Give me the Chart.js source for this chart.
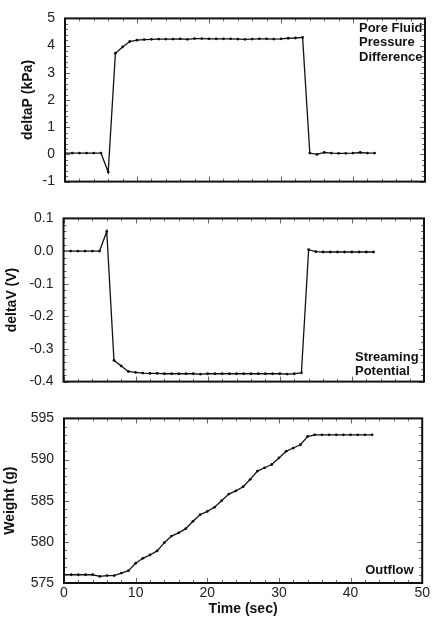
<!DOCTYPE html>
<html>
<head>
<meta charset="utf-8">
<script src="https://cdn.jsdelivr.net/npm/chart.js@4/dist/chart.umd.min.js"></script>
<style>
  body { margin: 0; background: #fff; }
  .panel { position: absolute; left: 0; width: 432px; }
</style>
</head>
<body>
<div class="panel" style="top:0;height:200px"><canvas id="pressure"></canvas></div>
<div class="panel" style="top:200px;height:200px"><canvas id="voltage"></canvas></div>
<div class="panel" style="top:400px;height:224px"><canvas id="weight"></canvas></div>
<script>
// time (sec)
const time = [0, 1, 2, 3, 4, 5, 6, 7, 8, 9, 10, 11, 12, 13, 14, 15, 16, 17, 18, 19, 20, 21,
              22, 23, 24, 25, 26, 27, 28, 29, 30, 31, 32, 33, 34, 35, 36, 37, 38, 39, 40, 41, 42, 43];

// pore fluid pressure difference (kPa)
const deltaP = [0.05, 0.05, 0.05, 0.05, 0.05, 0.05, -0.65, 3.72, 3.95, 4.15, 4.20, 4.22, 4.23, 4.24,
                4.24, 4.24, 4.25, 4.23, 4.26, 4.26, 4.25, 4.25, 4.25, 4.25, 4.24, 4.23, 4.24, 4.25,
                4.25, 4.24, 4.25, 4.27, 4.28, 4.30, 0.05, 0.00, 0.07, 0.05, 0.04, 0.04, 0.05, 0.07,
                0.05, 0.05];

// streaming potential (V)
const deltaV = [0.0, 0.0, 0.0, 0.0, 0.0, 0.0, 0.06, -0.335, -0.352, -0.369, -0.372, -0.374, -0.375,
                -0.375, -0.376, -0.376, -0.376, -0.376, -0.376, -0.377, -0.376, -0.376, -0.376, -0.376,
                -0.376, -0.376, -0.376, -0.376, -0.376, -0.376, -0.376, -0.377, -0.376, -0.373,
                0.004, -0.002, -0.003, -0.003, -0.003, -0.003, -0.003, -0.003, -0.003, -0.003];

// outflow weight (g)
const weight = [576.0, 576.0, 576.0, 576.0, 576.0, 575.8, 575.9, 575.9, 576.2, 576.5, 577.4, 578.0,
                578.4, 578.9, 579.9, 580.7, 581.1, 581.6, 582.5, 583.3, 583.7, 584.2, 585.0, 585.8,
                586.2, 586.7, 587.6, 588.6, 589.0, 589.4, 590.2, 591.0, 591.4, 591.8, 592.8, 593.0,
                593.0, 593.0, 593.0, 593.0, 593.0, 593.0, 593.0, 593.0];

const pressureNote = ['Pore Fluid', 'Pressure', 'Difference'];
const voltageNote = ['Streaming', 'Potential'];
const weightNote = ['Outflow'];

const tickFont = { family: 'Liberation Sans, Arial, sans-serif', size: 14 };
const titleFont = { family: 'Liberation Sans, Arial, sans-serif', size: 14, weight: 'bold' };

// inward ticks on all four sides plus the heavy frame
const framePlugin = {
  id: 'frame',
  afterDatasetsDraw(chart, args, opts) {
    const ctx = chart.ctx;
    const a = chart.chartArea;
    const xs = chart.scales.x, ys = chart.scales.y;
    ctx.save();
    ctx.strokeStyle = '#666';
    ctx.lineWidth = 1;
    ctx.beginPath();
    for (let v = 0; v <= 50.001; v += 2) {
      const px = Math.round(xs.getPixelForValue(v)) + 0.5;
      const len = Math.abs(v % 10) < 0.01 ? 5 : 3;
      ctx.moveTo(px, a.bottom); ctx.lineTo(px, a.bottom - len);
      ctx.moveTo(px, a.top); ctx.lineTo(px, a.top + len);
    }
    const ymin = ys.min, ymax = ys.max, major = opts.major, minor = opts.minor;
    const n = Math.round((ymax - ymin) / minor);
    const per = Math.round(major / minor);
    for (let i = 0; i <= n; i++) {
      const v = ymin + i * minor;
      const py = Math.round(ys.getPixelForValue(v)) + 0.5;
      const len = i % per === 0 ? 5 : 3;
      ctx.moveTo(a.left, py); ctx.lineTo(a.left + len, py);
      ctx.moveTo(a.right, py); ctx.lineTo(a.right - len, py);
    }
    ctx.stroke();
    ctx.strokeStyle = '#111';
    ctx.lineWidth = 2;
    ctx.strokeRect(a.left, a.top, a.right - a.left, a.bottom - a.top);

    // panel note
    ctx.fillStyle = '#111';
    ctx.font = 'bold 13px "Liberation Sans", Arial, sans-serif';
    ctx.textBaseline = 'middle';
    opts.note.forEach((line, i) => {
      ctx.fillText(line, a.right + opts.noteDx, a.top + opts.noteDy + i * 14.5);
    });
    ctx.restore();
  }
};

function makeChart(id, values, cfg) {
  const points = time.map((t, i) => ({ x: t, y: values[i] }));
  return new Chart(document.getElementById(id), {
    type: 'line',
    data: {
      datasets: [{
        data: points,
        borderColor: '#111',
        borderWidth: 1.3,
        pointRadius: 1.4,
        pointBackgroundColor: '#111',
        pointBorderWidth: 0,
        tension: 0
      }]
    },
    options: {
      responsive: true,
      maintainAspectRatio: false,
      animation: false,
      layout: { padding: cfg.padding },
      plugins: {
        legend: { display: false },
        tooltip: { enabled: false },
        frame: { major: cfg.major, minor: cfg.minor, note: cfg.note, noteDx: cfg.noteDx, noteDy: cfg.noteDy }
      },
      scales: {
        x: {
          type: 'linear',
          min: 0,
          max: 50,
          display: cfg.showX,
          grid: { display: false, drawTicks: false },
          border: { display: false },
          ticks: { stepSize: 10, color: '#222', font: tickFont, padding: 2, maxRotation: 0 },
          title: { display: true, text: 'Time (sec)', color: '#111', font: titleFont, padding: { top: 0, bottom: 6 } },
          afterFit(scale) { scale.height = cfg.showX ? 41 : 0; }
        },
        y: {
          min: cfg.min,
          max: cfg.max,
          grid: { display: false, drawTicks: false },
          border: { display: false },
          ticks: {
            stepSize: cfg.major,
            color: '#222',
            font: tickFont,
            padding: 10,
            callback: v => v.toFixed(cfg.digits)
          },
          title: { display: true, text: cfg.title, color: '#111', font: titleFont, padding: { top: cfg.titlePad, bottom: 0 } },
          afterFit(scale) { scale.width = cfg.axisWidth; }
        }
      }
    },
    plugins: [framePlugin]
  });
}

makeChart('pressure', deltaP, {
  min: -1, max: 5, major: 1, minor: 0.2, digits: 0,
  title: 'deltaP (kPa)', titlePad: 19.5, axisWidth: 65,
  padding: { top: 13, right: 7, bottom: 17, left: 0 },
  showX: false, note: pressureNote, noteDx: -66, noteDy: 10
});

makeChart('voltage', deltaV, {
  min: -0.4, max: 0.1, major: 0.1, minor: 0.02, digits: 1,
  title: 'deltaV (V)', titlePad: 3.5, axisWidth: 63.5,
  padding: { top: 13, right: 8, bottom: 17, left: 0 },
  showX: false, note: voltageNote, noteDx: -69, noteDy: 139
});

makeChart('weight', weight, {
  min: 575, max: 595, major: 5, minor: 1, digits: 0,
  title: 'Weight (g)', titlePad: 1.5, axisWidth: 64,
  padding: { top: 14, right: 8, bottom: 0, left: 0 },
  showX: true, note: weightNote, noteDx: -57, noteDy: 152
});
</script>
</body>
</html>
